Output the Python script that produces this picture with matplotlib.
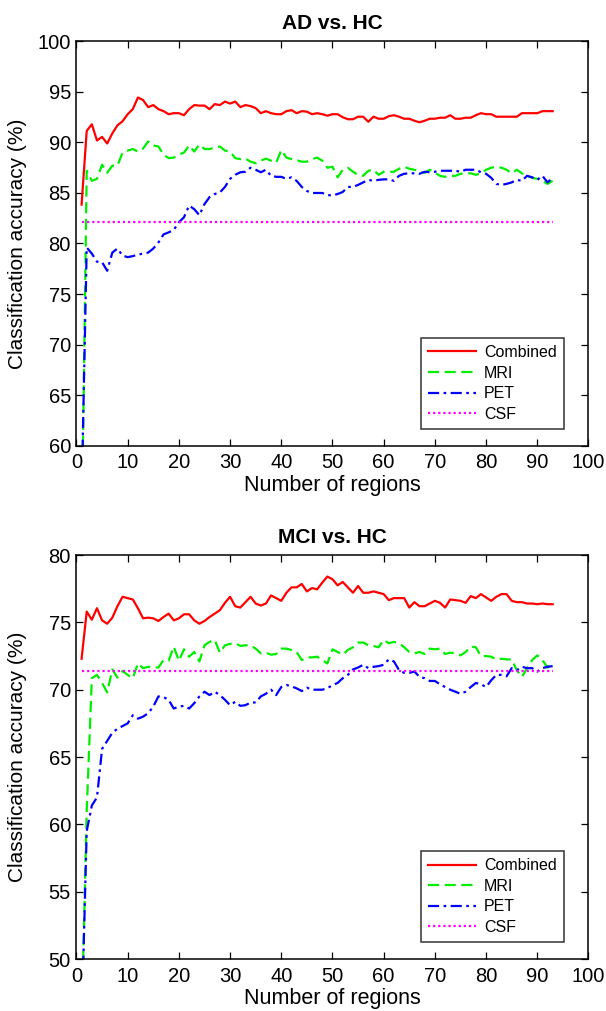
import matplotlib
matplotlib.use("Agg")
import matplotlib.pyplot as plt
import numpy as np

plt.rcParams['font.family'] = ['Liberation Sans', 'DejaVu Sans']

regions = np.arange(1, 94)

# ---- AD vs. HC ----
ad_combined = [83.85, 91.15, 91.8, 90.2, 90.55, 89.9, 90.9, 91.7, 92.1, 92.8,
               93.3, 94.45, 94.2, 93.5, 93.7, 93.3, 93.1, 92.8, 92.9, 92.9,
               92.7, 93.3, 93.7, 93.65, 93.65, 93.3, 93.8, 93.7, 94.05, 93.85,
               94.05, 93.5, 93.7, 93.6, 93.4, 92.9, 93.1, 92.9, 92.8, 92.8,
               93.1, 93.2, 92.9, 93.1, 93.05, 92.8, 92.9,
               92.8, 92.65, 92.8, 92.8, 92.5, 92.3, 92.3, 92.55, 92.55, 92.05,
               92.55, 92.35, 92.35, 92.6, 92.7, 92.55, 92.35, 92.35, 92.15, 92.0,
               92.15, 92.35, 92.35, 92.45, 92.45, 92.7, 92.35, 92.35, 92.45, 92.45,
               92.7, 92.9, 92.8, 92.8, 92.55, 92.55, 92.55, 92.55, 92.55, 92.9,
               92.9, 92.9, 92.9, 93.1, 93.1, 93.1]
ad_mri = [50.0, 87.2, 86.2, 86.4, 87.8, 87.0, 87.7, 87.7, 89.0, 89.2,
          89.35, 89.1, 89.4, 90.1, 89.7, 89.6, 88.8, 88.45, 88.5, 88.8,
          89.0, 89.7, 89.1, 89.8, 89.35, 89.35, 89.5, 89.6, 89.2, 89.1,
          88.45, 88.35, 88.4, 88.1, 87.95, 88.2, 88.4, 88.2, 88.0, 89.25,
          88.5, 88.35, 88.25, 88.1, 88.1, 88.35, 88.5,
          88.2, 87.5, 87.6, 86.55, 87.3, 87.5, 87.1, 86.8, 86.7, 87.2,
          87.3, 86.8, 87.1, 87.1, 87.1, 87.4, 87.6, 87.4, 87.3, 87.1,
          87.0, 87.3, 87.0, 86.7, 86.6, 86.7, 86.7, 86.9, 86.95, 86.95,
          86.8, 86.95, 87.3, 87.5, 87.6, 87.5, 87.3, 86.95, 87.3, 86.95,
          86.7, 86.5, 86.4, 86.2, 85.9, 86.2]
ad_pet = [55.0, 79.6, 79.0, 78.2, 78.15, 77.3, 79.1, 79.5, 78.8, 78.65,
          78.75, 78.9, 79.0, 79.1, 79.5, 80.1, 80.9, 81.1, 81.35, 82.1,
          82.6, 83.75, 83.4, 82.8, 83.9, 84.6, 84.9, 85.05, 85.6, 86.4,
          86.8, 87.05, 87.1, 87.5, 87.3, 87.05, 87.3, 86.7, 86.6, 86.6,
          86.4, 86.55, 86.2, 85.6, 85.2, 85.0, 85.0,
          85.0, 84.8, 84.75, 84.9, 85.1, 85.6, 85.6, 85.8, 86.05, 86.3,
          86.2, 86.3, 86.35, 86.35, 86.2, 86.7, 86.9, 86.95, 86.95, 86.9,
          87.1, 87.05, 87.1, 87.2, 87.2, 87.2, 87.2, 87.1, 87.3, 87.3,
          87.3, 87.05, 86.9, 86.5, 85.9, 85.8, 85.9, 86.05, 86.3, 86.2,
          86.7, 86.55, 86.3, 86.7, 86.05, 86.5]
ad_csf = 82.1

# ---- MCI vs. HC ----
mci_combined = [72.3, 75.8, 75.2, 76.05, 75.15, 74.9, 75.35, 76.2, 76.9, 76.8,
                76.7, 76.05, 75.3, 75.35, 75.3, 75.1, 75.4, 75.65, 75.15, 75.3,
                75.6, 75.6, 75.15, 74.9, 75.1, 75.4, 75.65, 75.9, 76.45, 76.9,
                76.2, 76.1, 76.5, 76.9, 76.4, 76.25, 76.4, 77.0, 76.8, 76.6,
                77.2, 77.6, 77.6, 77.85, 77.3, 77.55, 77.45,
                77.95, 78.4, 78.2, 77.75, 78.0, 77.6, 77.2, 77.7, 77.2, 77.2,
                77.3, 77.2, 77.1, 76.65, 76.8, 76.8, 76.8, 76.1, 76.5, 76.2,
                76.2, 76.4, 76.6, 76.45, 76.1, 76.7, 76.65, 76.6, 76.45, 76.95,
                76.8, 77.1, 76.85, 76.6, 76.9, 77.1, 77.1, 76.6, 76.5, 76.5,
                76.4, 76.4, 76.35, 76.4, 76.35, 76.35]
mci_mri = [45.0, 61.0, 70.85, 71.1, 70.5, 69.8, 71.5, 70.9, 71.4, 71.1,
           70.85, 71.95, 71.6, 71.7, 71.65, 71.65, 72.2, 72.15, 73.2, 72.15,
           73.0, 72.45, 72.8, 72.1, 73.3, 73.55, 73.7, 72.75, 73.3, 73.4,
           73.45, 73.25, 73.3, 73.3, 73.05, 72.7, 72.75, 72.6, 72.65, 73.05,
           73.05, 72.95, 72.8, 72.2, 72.4, 72.4, 72.45,
           72.2, 71.95, 73.0, 72.8, 72.6, 72.95, 73.15, 73.5, 73.5, 73.3,
           73.25, 73.15, 73.7, 73.45, 73.55, 73.45, 73.15, 72.8, 72.7, 72.8,
           72.65, 73.05, 73.0, 73.05, 72.65, 72.75, 72.7, 72.55, 72.8, 73.2,
           73.15, 72.5, 72.5, 72.45, 72.25, 72.3, 72.25, 72.25, 71.45, 70.95,
           71.6, 72.2, 72.55, 72.2, 71.65, 72.1]
mci_pet = [45.0, 59.5, 61.4, 62.0, 65.6, 66.2, 66.8, 67.1, 67.3, 67.5,
           68.1, 67.85, 68.0, 68.25, 68.75, 69.5, 69.45, 69.25, 68.6, 68.75,
           68.8, 68.6, 69.0, 69.5, 69.85, 69.6, 69.85, 69.6, 69.25, 68.85,
           69.1, 68.8, 68.85, 69.05, 69.05, 69.5, 69.7, 70.0, 69.6, 70.2,
           70.35, 70.25, 70.1, 69.9, 70.15, 70.0, 70.0,
           70.0, 70.1, 70.35, 70.5, 70.85, 71.1, 71.5, 71.65, 71.85, 71.6,
           71.7, 71.75, 71.85, 72.25, 72.1, 71.45, 71.25, 71.25, 71.35, 70.95,
           70.85, 70.65, 70.65, 70.4, 70.2, 70.0, 69.85, 69.7, 69.85, 70.2,
           70.5, 70.4, 70.2, 70.7, 71.1, 71.1, 71.0, 71.6, 71.45, 71.7,
           71.6, 71.6, 71.35, 71.6, 71.7, 71.75]
mci_csf = 71.4

titles = ["AD vs. HC", "MCI vs. HC"]
ylims = [(60, 100), (50, 80)]
yticks = [np.arange(60, 101, 5), np.arange(50, 81, 5)]
xticks = np.arange(0, 101, 10)

fig = plt.figure(figsize=(6.06, 10.11), dpi=100)
ax1 = fig.add_axes([0.1262, 0.5593, 0.8449, 0.3997])
ax2 = fig.add_axes([0.1262, 0.0514, 0.8449, 0.3996])

datasets = [
    (ad_combined, ad_mri, ad_pet, ad_csf),
    (mci_combined, mci_mri, mci_pet, mci_csf),
]
legend_anchor = [(0.952, 0.041), (0.952, 0.042)]

for ax, (comb, mri, pet, csf), title, yl, yt, anc in zip(
        [ax1, ax2], datasets, titles, ylims, yticks, legend_anchor):
    ax.plot(regions, comb, color='#ff0000', lw=1.6, ls='-', label='Combined')
    ax.plot(regions, mri, color='#00ee00', lw=1.6, ls=(0, (5, 2.5)), label='MRI')
    ax.plot(regions, pet, color='#0000ff', lw=1.6, ls=(0, (5, 2, 1.2, 2)), label='PET')
    ax.plot(regions, [csf] * len(regions), color='#ff00ff', lw=1.6,
            ls=(0, (1, 1.3)), label='CSF')
    ax.set_xlim(0, 100)
    ax.set_ylim(*yl)
    ax.set_xticks(xticks)
    ax.set_yticks(yt)
    ax.tick_params(direction='in', length=5, width=0.9, top=True, right=True,
                   labelsize=14.5)
    ax.tick_params(axis='x', pad=5.5)
    ax.tick_params(axis='y', pad=4)
    for sp in ax.spines.values():
        sp.set_linewidth(1.1)
    ax.set_title(title, fontsize=15, fontweight='bold', pad=9)
    ax.set_xlabel('Number of regions', fontsize=15.5, labelpad=2)
    ax.set_ylabel('Classification accuracy (%)', fontsize=15)
    ax.yaxis.set_label_coords(-0.096, 0.5)
    leg = ax.legend(loc='lower right', bbox_to_anchor=anc, fontsize=11.5,
                    frameon=True, fancybox=False, edgecolor='black',
                    handlelength=3.0, borderpad=0.45, labelspacing=0.35,
                    handletextpad=0.5, borderaxespad=0.0)
    leg.get_frame().set_linewidth(1.1)

fig.savefig('out.png', dpi=100)
